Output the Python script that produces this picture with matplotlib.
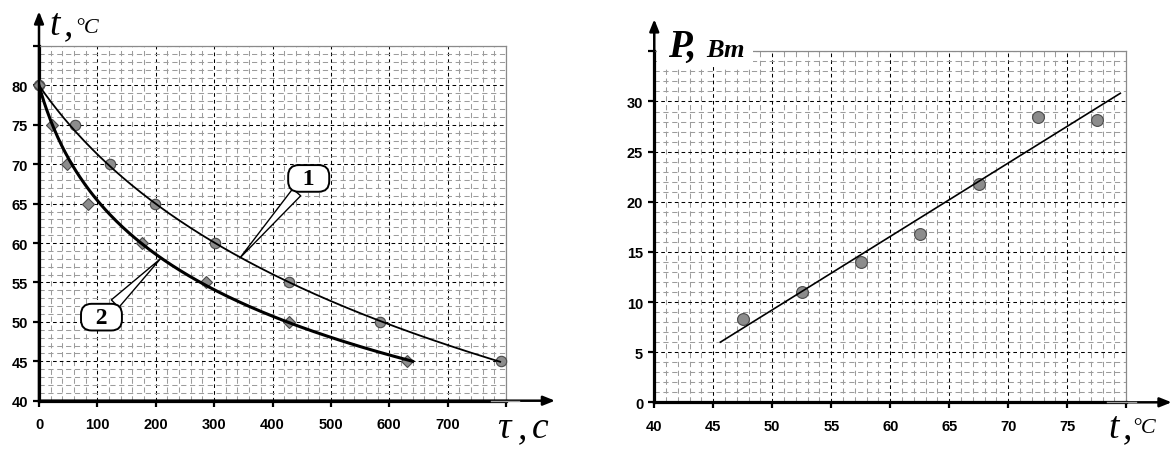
import numpy as np
import matplotlib
matplotlib.use('Agg')
import matplotlib.pyplot as plt
from matplotlib.ticker import MultipleLocator, FixedLocator, FixedFormatter
from matplotlib.patches import Rectangle

plt.rcParams['font.family'] = ['Liberation Sans', 'DejaVu Sans']
plt.rcParams['font.weight'] = 'bold'

# ---------------- Left chart data: cooling curves ----------------
tau_1 = [0, 62, 121, 199, 302, 428, 584, 792]
temp_1 = [80, 75, 70, 65, 60, 55, 50, 45]
tau_2 = [0, 22, 48, 84, 176, 286, 429, 630]
temp_2 = [80, 75, 70, 65, 60, 55, 50, 45]
curve_1_range = [0, 790]
curve_2_range = [0, 640]
left_xticks = [0, 100, 200, 300, 400, 500, 600, 700, 800]
left_xticklabels = ['0', '100', '200', '300', '400', '500', '600', '700', '']
left_yticks = [40, 45, 50, 55, 60, 65, 70, 75, 80, 85]
left_yticklabels = ['40', '45', '50', '55', '60', '65', '70', '75', '80', '']

# ---------------- Right chart data: power vs temperature ----------------
t_vals = [47.5, 52.5, 57.5, 62.5, 67.5, 72.5, 77.5]
p_vals = [8.3, 11.0, 14.0, 16.8, 21.8, 28.5, 28.2]
fit_range = [45.6, 79.5]
right_xticks = [40, 45, 50, 55, 60, 65, 70, 75, 80]
right_xticklabels = ['40', '45', '50', '55', '60', '65', '70', '75', '']
right_yticks = [0, 5, 10, 15, 20, 25, 30, 35]
right_yticklabels = ['0', '5', '10', '15', '20', '25', '30', '']


def log_fit(x, y):
    """Trend t = t0 - b*ln(1 + tau/c) anchored at the first point,
    fitted by least squares on the time axis (tau = c*(exp((t0-t)/b) - 1))."""
    x = np.asarray(x, float)
    y = np.asarray(y, float)
    a = y[0]
    cs = np.linspace(5, 600, 600)[:, None, None]
    bs = np.linspace(4, 60, 561)[None, :, None]
    pred = cs * (np.exp((a - y[None, None, :]) / bs) - 1.0)
    sse = np.sum((pred - x[None, None, :]) ** 2, axis=2)
    i, j = np.unravel_index(np.argmin(sse), sse.shape)
    c = cs[i, 0, 0]
    b = bs[0, j, 0]
    return lambda xx: a - b * np.log1p(np.asarray(xx, float) / c)


def style_axes(ax, xlim, ylim, xticks, xlabels, yticks, ylabels, xminor, yminor,
               xarrow, yarrow, gray_seg):
    ax.set_xlim(xlim)
    ax.set_ylim(ylim)
    ax.xaxis.set_major_locator(FixedLocator(xticks))
    ax.xaxis.set_major_formatter(FixedFormatter(xlabels))
    ax.yaxis.set_major_locator(FixedLocator(yticks))
    ax.yaxis.set_major_formatter(FixedFormatter(ylabels))
    ax.xaxis.set_minor_locator(MultipleLocator(xminor))
    ax.yaxis.set_minor_locator(MultipleLocator(yminor))
    ax.set_axisbelow(True)
    ax.grid(which='minor', color='#9c9c9c', lw=0.75, ls=(0, (5, 3.5)))
    ax.grid(which='major', color='black', lw=0.75, ls=(0, (3.5, 3)))
    ax.tick_params(which='minor', length=0)
    ax.tick_params(which='major', direction='out', length=4, width=1.6,
                   labelsize=10.5, colors='black')
    ax.tick_params(axis='x', pad=8)
    ax.tick_params(axis='y', pad=4)
    for s in ('top', 'right'):
        ax.spines[s].set_color('#8a8a8a')
        ax.spines[s].set_linewidth(0.9)
    for s in ('left', 'bottom'):
        ax.spines[s].set_color('black')
        ax.spines[s].set_linewidth(2.3)
    ap = dict(arrowstyle='-|>,head_length=0.5,head_width=0.2', color='black',
              lw=1.8, mutation_scale=14, shrinkA=0, shrinkB=0)
    ax.annotate('', xy=(xarrow, ylim[0]), xytext=(xlim[0], ylim[0]),
                arrowprops=ap, annotation_clip=False, zorder=5)
    ax.annotate('', xy=(xlim[0], yarrow), xytext=(xlim[0], ylim[0]),
                arrowprops=ap, annotation_clip=False, zorder=5)
    ax.plot(gray_seg, [ylim[0], ylim[0]], color='#a0a0a0', lw=1.0,
            clip_on=False, zorder=6)


def label(x, y, s, size, weight='normal'):
    fig.text(x / 1174, 1 - y / 452, s, fontsize=size, style='italic', fontweight=weight,
             family=['Liberation Serif', 'DejaVu Serif'], va='baseline', ha='left')


fig = plt.figure(figsize=(11.74, 4.52), dpi=100)
ax1 = fig.add_axes([0.03322, 0.1113, 0.3978, 0.7847])
ax2 = fig.add_axes([0.5573, 0.1077, 0.4020, 0.7765])

# ---------------- Left chart ----------------
style_axes(ax1, (0, 800), (40, 85), left_xticks, left_xticklabels,
           left_yticks, left_yticklabels, 20, 1, 884, 89.4, [774, 822])

f1 = log_fit(tau_1, temp_1)
f2 = log_fit(tau_2, temp_2)
xx1 = np.linspace(curve_1_range[0], curve_1_range[1], 300)
xx2 = np.linspace(curve_2_range[0], curve_2_range[1], 300)

mk = dict(color='#8c8c8c', mec='#4a4a4a', mew=0.8, ls='none', zorder=3, clip_on=False)
ax1.plot(tau_1, temp_1, marker='o', ms=7.5, **mk)
ax1.plot(tau_2, temp_2, marker='D', ms=6.5, **mk)
ax1.plot(xx1, f1(xx1), color='black', lw=1.3, zorder=4)
ax1.plot(xx2, f2(xx2), color='black', lw=2.2, zorder=4)

box = dict(boxstyle='round,pad=0.12,rounding_size=0.45', fc='white', ec='black', lw=1.4)
wedge = dict(arrowstyle='wedge,tail_width=0.45,shrink_factor=0.5', fc='white',
             ec='black', lw=1.0, shrinkA=0, shrinkB=0)
ax1.annotate('  1  ', xy=(344, 58.1), xytext=(462, 68.2), ha='center', va='center',
             fontsize=17, fontweight='bold', family='Liberation Serif',
             bbox=box, arrowprops=wedge, zorder=7)
ax1.annotate('  2  ', xy=(208, 58.0), xytext=(107, 50.6), ha='center', va='center',
             fontsize=17, fontweight='bold', family='Liberation Serif',
             bbox=box, arrowprops=wedge, zorder=7)

label(49, 35, 't', 27)
label(64, 35, ',', 27)
label(75, 33, '°C', 16)
label(497, 438, 'τ', 27)
label(518, 438, ',', 27)
label(532, 438, 'с', 27)

# ---------------- Right chart ----------------
style_axes(ax2, (40, 80), (0, 35), right_xticks, right_xticklabels,
           right_yticks, right_yticklabels, 1, 1, 83.85, 38.2, [78.34, 80.82])

k, b0 = np.polyfit(t_vals, p_vals, 1)
xl = np.array(fit_range)
ax2.plot(t_vals, p_vals, marker='o', ms=8.5, **mk)
ax2.plot(xl, k * xl + b0, color='black', lw=1.2, zorder=4)

ax2.add_patch(Rectangle((0.005, 0.955), 0.204, 0.08, transform=ax2.transAxes,
                        fc='white', ec='none', zorder=2.6, clip_on=False))

label(668, 57, 'P,', 28, 'bold')
label(706, 57, 'Вт', 19, 'bold')
label(1108, 438, 't', 27)
label(1123, 438, ',', 27)
label(1132, 433, '°C', 16)

fig.savefig('out.png', dpi=100)
